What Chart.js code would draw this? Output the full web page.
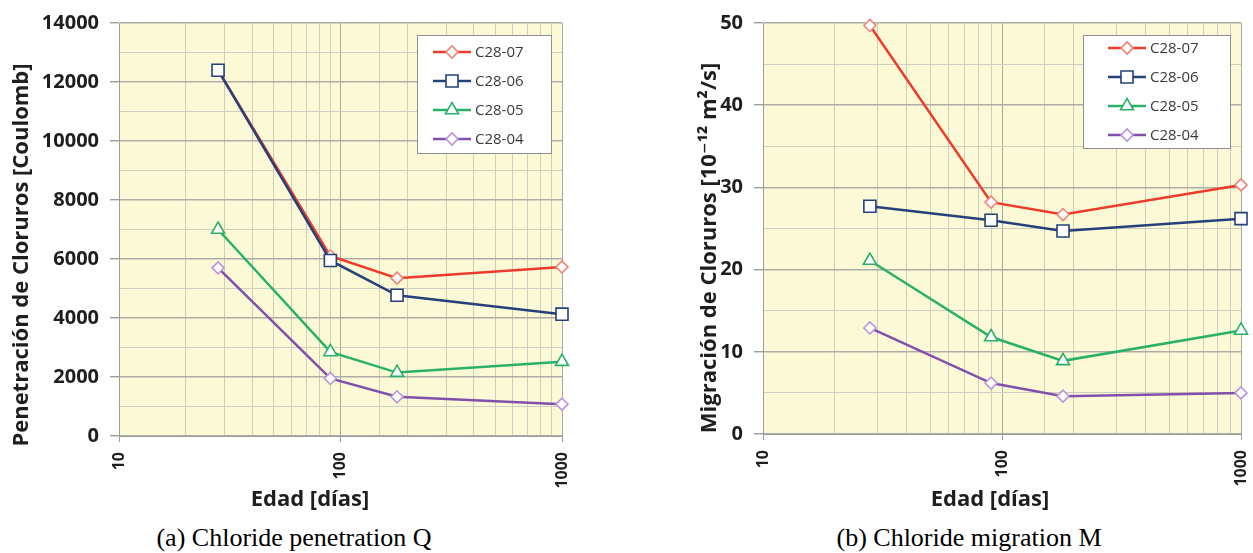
<!DOCTYPE html>
<html>
<head>
<meta charset="utf-8">
<script src="https://cdn.jsdelivr.net/npm/chart.js@4.4.1/dist/chart.umd.min.js"></script>
<style>
html, body { margin: 0; overflow: hidden; }
body { background: #fff; width: 1253px; height: 553px; position: relative; }
canvas { position: absolute; top: 0; }
#chartQ { left: 0; }
#chartM { left: 640px; }
.caption { position: absolute; top: 523px; font-family: "Liberation Serif", "Times New Roman", serif; font-size: 26px; line-height: 30px; color: #000; white-space: nowrap; transform: translateX(-50%); }
</style>
</head>
<body>
<canvas id="chartQ" width="600" height="520"></canvas>
<canvas id="chartM" width="640" height="520"></canvas>
<div class="caption" style="left:294px">(a) Chloride penetration Q</div>
<div class="caption" style="left:969px">(b) Chloride migration M</div>
<script>
const ages = [28, 90, 180, 1000];
const seriesNames = ["C28-07", "C28-06", "C28-05", "C28-04"];
const xTickLabels = [10, 100, 1000];

// (a) penetration Q [Coulomb]
const penetration07 = [12400, 6100, 5350, 5730];
const penetration06 = [12400, 5950, 4770, 4130];
const penetration05 = [7000, 2850, 2150, 2520];
const penetration04 = [5700, 1950, 1330, 1080];

// (b) migration M [10^-12 m2/s]
const migration07 = [49.7, 28.2, 26.7, 30.3];
const migration06 = [27.7, 26.0, 24.7, 26.2];
const migration05 = [21.1, 11.8, 8.9, 12.6];
const migration04 = [12.9, 6.2, 4.6, 5.0];

const lineColors = ["#EE3B2B", "#25407A", "#2AB168", "#8050AC"];
const markerBorders = ["#F2817A", "#25407A", "#2AB168", "#B994DA"];
const markerStyles = ["rectRot", "rect", "triangle", "rectRot"];
const markerSizes = [6, 8.5, 7.5, 6];
const drawOrder = [2, 1, 3, 4];

const labelFont = "'Open Sans', 'DejaVu Sans', sans-serif";
const textColor = "#1e1e1e";

const plotBackground = {
  id: "plotBackground",
  beforeDraw(chart, args, opts) {
    const a = chart.chartArea;
    chart.ctx.save();
    chart.ctx.fillStyle = opts.color;
    chart.ctx.fillRect(a.left, a.top, a.right - a.left, a.bottom - a.top);
    chart.ctx.restore();
  }
};

const axisTitles = {
  id: "axisTitles",
  afterDraw(chart, args, opts) {
    const ctx = chart.ctx;
    ctx.save();
    ctx.fillStyle = textColor;
    ctx.font = "bold " + opts.size + "px " + labelFont;
    ctx.textAlign = "center";
    ctx.textBaseline = "middle";
    ctx.fillText(opts.x.text, opts.x.cx, opts.x.cy);
    ctx.translate(opts.y.cx, opts.y.cy);
    ctx.rotate(-Math.PI / 2);
    ctx.fillText(opts.y.text, 0, 0);
    ctx.restore();
  }
};

const boxLegend = {
  id: "boxLegend",
  afterDraw(chart, args, opts) {
    const ctx = chart.ctx;
    ctx.save();
    ctx.fillStyle = "#fff";
    ctx.fillRect(opts.left, opts.top, opts.width, opts.height);
    ctx.strokeStyle = "#8f8f8f";
    ctx.lineWidth = 1;
    ctx.strokeRect(opts.left + 0.5, opts.top + 0.5, opts.width, opts.height);
    chart.data.datasets.forEach(function(ds, i) {
      const y = opts.top + opts.firstRow + i * opts.rowGap;
      const x0 = opts.left + opts.lineStart;
      ctx.strokeStyle = ds.borderColor;
      ctx.lineWidth = ds.borderWidth;
      ctx.beginPath();
      ctx.moveTo(x0, y);
      ctx.lineTo(x0 + opts.lineLen, y);
      ctx.stroke();
      ctx.fillStyle = "#fff";
      ctx.strokeStyle = ds.pointBorderColor;
      ctx.lineWidth = ds.pointBorderWidth;
      Chart.helpers.drawPoint(ctx, {
        pointStyle: ds.pointStyle, rotation: 0,
        radius: ds.pointRadius, borderWidth: ds.pointBorderWidth
      }, x0 + opts.lineLen / 2, y);
      ctx.fillStyle = "#3a3a3a";
      ctx.font = "15px " + labelFont;
      ctx.textAlign = "left";
      ctx.textBaseline = "middle";
      ctx.fillText(ds.label, x0 + opts.lineLen + 4, y + 1);
    });
    ctx.restore();
  }
};

function isDecade(v) {
  const l = Math.log10(v);
  return Math.abs(l - Math.round(l)) < 1e-6;
}

function makeChart(id, seriesValues, cfg) {
  const datasets = seriesValues.map(function(vals, i) {
    return {
      label: seriesNames[i],
      data: ages.map(function(a, j) { return { x: a, y: vals[j] }; }),
      borderColor: lineColors[i],
      borderWidth: 2.5,
      pointStyle: markerStyles[i],
      pointRadius: markerSizes[i],
      pointBackgroundColor: "#fff",
      pointBorderColor: markerBorders[i],
      pointBorderWidth: 1.6,
      tension: 0,
      clip: false,
      order: drawOrder[i]
    };
  });

  return new Chart(document.getElementById(id), {
    type: "line",
    data: { datasets: datasets },
    options: {
      responsive: false,
      animation: false,
      devicePixelRatio: 1,
      layout: { autoPadding: false, padding: cfg.padding },
      plugins: {
        legend: { display: false },
        tooltip: { enabled: false },
        plotBackground: { color: "#FCFAD6" },
        axisTitles: cfg.titles,
        boxLegend: cfg.legend
      },
      scales: {
        x: {
          type: "logarithmic",
          min: 10,
          max: 1000,
          afterFit: function(s) { s.height = cfg.xHeight; },
          border: { color: "#9c9c9c", width: 1 },
          grid: {
            color: function(c) { return isDecade(c.tick.value) ? "#a9a9a3" : "#cfcdbd"; },
            tickColor: function(c) { return isDecade(c.tick.value) ? "#9c9c9c" : "rgba(0,0,0,0)"; },
            tickLength: 6
          },
          ticks: {
            autoSkip: false,
            minRotation: 90,
            maxRotation: 90,
            padding: 10,
            color: textColor,
            font: { family: labelFont, size: 16, weight: "bold" },
            callback: function(v) { return xTickLabels.indexOf(Math.round(v)) >= 0 && isDecade(v) ? String(Math.round(v)) : ""; }
          }
        },
        y: {
          min: 0,
          max: cfg.yMax,
          afterFit: function(s) { s.width = cfg.yWidth; },
          border: { color: "#9c9c9c", width: 1 },
          grid: {
            color: function(c) { return c.tick.value % cfg.yLabelStep === 0 ? "#adada5" : "#cfcdbd"; },
            lineWidth: function(c) { return c.tick.value % cfg.yLabelStep === 0 ? 1.4 : 1; },
            tickColor: function(c) { return c.tick.value % cfg.yLabelStep === 0 ? "#9c9c9c" : "rgba(0,0,0,0)"; },
            tickLength: 9
          },
          ticks: {
            stepSize: cfg.yStep,
            padding: 11,
            color: textColor,
            font: { family: labelFont, size: 20, weight: "bold" },
            callback: function(v) { return v % cfg.yLabelStep === 0 ? String(v) : ""; }
          }
        }
      }
    },
    plugins: [plotBackground, axisTitles, boxLegend]
  });
}

makeChart("chartQ", [penetration07, penetration06, penetration05, penetration04], {
  padding: { top: 22, left: 0, right: 38, bottom: 0 },
  yWidth: 119,
  xHeight: 84,
  yMax: 14000,
  yStep: 1000,
  yLabelStep: 2000,
  titles: {
    size: 22,
    x: { text: "Edad [días]", cx: 310, cy: 500 },
    y: { text: "Penetración de Cloruros [Coulomb]", cx: 22, cy: 255 }
  },
  legend: { left: 417, top: 35, width: 134, height: 118, firstRow: 17, rowGap: 29, lineStart: 16, lineLen: 38 }
});

makeChart("chartM", [migration07, migration06, migration05, migration04], {
  padding: { top: 19, left: 0, right: 39, bottom: 0 },
  yWidth: 123,
  xHeight: 86,
  yMax: 50,
  yStep: 5,
  yLabelStep: 10,
  titles: {
    size: 22,
    x: { text: "Edad [días]", cx: 350, cy: 500 },
    y: { text: "Migración de Cloruros [10⁻¹² m²/s]", cx: 70, cy: 248 }
  },
  legend: { left: 443, top: 35, width: 147, height: 113, firstRow: 13, rowGap: 29, lineStart: 25, lineLen: 38 }
});
</script>
</body>
</html>
